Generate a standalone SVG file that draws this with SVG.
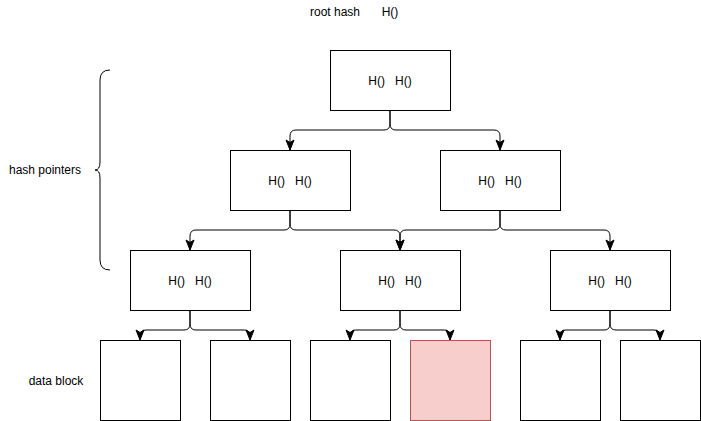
<svg xmlns="http://www.w3.org/2000/svg" width="701" height="421" viewBox="0 0 701 421">
<style>
.box{fill:#ffffff;stroke:#000000;stroke-width:1}
.red{fill:#f8cecc;stroke:#b85450;stroke-width:1}
.t{font-family:"Liberation Sans",Arial,sans-serif;font-size:12px;fill:#000000;white-space:pre}
.m{text-anchor:middle}
.e{fill:none;stroke:#000000;stroke-width:1}
</style>
<defs>
<marker id="arr" markerUnits="userSpaceOnUse" markerWidth="12" markerHeight="12" viewBox="0 0 12 12" refX="11" refY="6" orient="auto">
<path d="M1,2 L11,6 L1,10 L3.5,6 Z" fill="#000000" stroke="#000000" stroke-width="1"/>
</marker>
</defs>
<rect width="701" height="421" fill="#ffffff"/>
<g id="labels">
<text class="t m" x="335" y="16">root hash</text>
<text class="t m" x="390" y="16">H()</text>
<text class="t m" x="45" y="174">hash pointers</text>
<text class="t m" x="56" y="385">data block</text>
</g>
<g id="brace">
<path class="e" d="M110 70 Q100 70 100 80 L100 162 Q100 170 95 170 Q100 170 100 178 L100 260 Q100 270 110 270"/>
</g>
<g id="connectors">
<path class="e" marker-end="url(#arr)" d="M390 110 L390 124 Q390 130 384 130 L296 130 Q290 130 290 136 L290 150"/>
<path class="e" marker-end="url(#arr)" d="M390 110 L390 124 Q390 130 396 130 L494 130 Q500 130 500 136 L500 150"/>
<path class="e" marker-end="url(#arr)" d="M290 210 L290 224 Q290 230 284 230 L196 230 Q190 230 190 236 L190 250"/>
<path class="e" marker-end="url(#arr)" d="M290 210 L290 224 Q290 230 296 230 L394 230 Q400 230 400 236 L400 250"/>
<path class="e" marker-end="url(#arr)" d="M500 210 L500 224 Q500 230 494 230 L406 230 Q400 230 400 236 L400 250"/>
<path class="e" marker-end="url(#arr)" d="M500 210 L500 224 Q500 230 506 230 L604 230 Q610 230 610 236 L610 250"/>
<path class="e" marker-end="url(#arr)" d="M190 310 L190 324 Q190 330 184 330 L146 330 Q140 330 140 336 L140 340"/>
<path class="e" marker-end="url(#arr)" d="M190 310 L190 324 Q190 330 196 330 L244 330 Q250 330 250 336 L250 340"/>
<path class="e" marker-end="url(#arr)" d="M400 310 L400 324 Q400 330 394 330 L356 330 Q350 330 350 336 L350 340"/>
<path class="e" marker-end="url(#arr)" d="M400 310 L400 324 Q400 330 406 330 L444 330 Q450 330 450 336 L450 340"/>
<path class="e" marker-end="url(#arr)" d="M610 310 L610 324 Q610 330 604 330 L566 330 Q560 330 560 336 L560 340"/>
<path class="e" marker-end="url(#arr)" d="M610 310 L610 324 Q610 330 616 330 L654 330 Q660 330 660 336 L660 340"/>
</g>
<g id="root"><rect class="box" x="330.5" y="50.5" width="120" height="60"/><text class="t m" x="390" y="85" xml:space="preserve">H()   H()</text></g>
<g id="h1"><rect class="box" x="230.5" y="150.5" width="120" height="60"/><text class="t m" x="290" y="185" xml:space="preserve">H()   H()</text></g>
<g id="h2"><rect class="box" x="440.5" y="150.5" width="120" height="60"/><text class="t m" x="500" y="185" xml:space="preserve">H()   H()</text></g>
<g id="h11"><rect class="box" x="130.5" y="250.5" width="120" height="60"/><text class="t m" x="190" y="285" xml:space="preserve">H()   H()</text></g>
<g id="h12"><rect class="box" x="340.5" y="250.5" width="120" height="60"/><text class="t m" x="400" y="285" xml:space="preserve">H()   H()</text></g>
<g id="h21"><rect class="box" x="550.5" y="250.5" width="120" height="60"/><text class="t m" x="610" y="285" xml:space="preserve">H()   H()</text></g>
<g id="d1"><rect class="box" x="100.5" y="340.5" width="80" height="80"/></g>
<g id="d2"><rect class="box" x="210.5" y="340.5" width="80" height="80"/></g>
<g id="d3"><rect class="box" x="310.5" y="340.5" width="80" height="80"/></g>
<g id="d4"><rect class="red" x="410.5" y="340.5" width="80" height="80"/></g>
<g id="d5"><rect class="box" x="520.5" y="340.5" width="80" height="80"/></g>
<g id="d6"><rect class="box" x="620.5" y="340.5" width="80" height="80"/></g>
</svg>
